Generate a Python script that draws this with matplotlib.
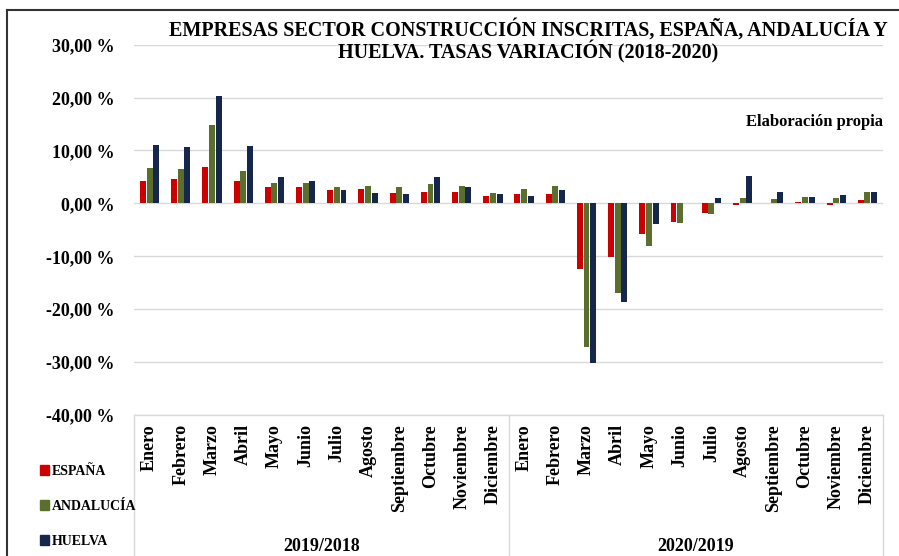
import matplotlib.pyplot as plt
import numpy as np
from matplotlib.lines import Line2D
from matplotlib.patches import Patch

# month labels, two periods of 12 months
months = ["Enero", "Febrero", "Marzo", "Abril", "Mayo", "Junio", "Julio",
          "Agosto", "Septiembre", "Octubre", "Noviembre", "Diciembre"]
periods = ["2019/2018", "2020/2019"]
series_names = ["ESPAÑA", "ANDALUCÍA", "HUELVA"]

# variation rates (%)
espana = [4.2, 4.6, 6.9, 4.2, 3.1, 3.1, 2.6, 2.8, 1.9, 2.1, 2.1, 1.4,
          1.7, 1.7, -12.4, -10.1, -5.7, -3.6, -1.75, -0.4, 0.0, 0.3, -0.4, 0.55]
andalucia = [6.7, 6.5, 14.8, 6.1, 3.9, 3.9, 3.1, 3.3, 3.1, 3.75, 3.3, 1.9,
             2.8, 3.3, -27.1, -17.0, -8.0, -3.8, -2.0, 0.95, 0.75, 1.2, 0.95, 2.1]
huelva = [11.1, 10.6, 20.25, 10.9, 4.9, 4.2, 2.6, 1.9, 1.7, 4.9, 3.1, 1.7,
          1.4, 2.6, -30.2, -18.7, -3.85, 0.0, 0.95, 5.1, 2.1, 1.2, 1.5, 2.1]

colors = ["#CC0000", "#5B6E2E", "#15284B"]
serif = ["Liberation Serif", "DejaVu Serif"]
plt.rcParams["font.family"] = serif
plt.rcParams["font.weight"] = "bold"

W, H = 899, 556
fig = plt.figure(figsize=(W / 100, H / 100), dpi=100)
ax = fig.add_axes([134 / W, 1 - 415 / H, (883 - 134) / W, (415 - 44.6) / H])

labels = months * len(periods)
x = np.arange(len(labels))
bw = 0.19
step = 0.213
for i, (vals, c) in enumerate(zip([espana, andalucia, huelva], colors)):
    ax.bar(x + (i - 1) * step, vals, width=bw, color=c, zorder=3)

ax.set_xlim(-0.5, len(labels) - 0.5)
ax.set_ylim(-40, 30)
ax.set_yticks(np.arange(-40, 31, 10))
ax.set_yticklabels([f"{v:,.2f} %".replace(".", ",") for v in np.arange(-40, 31, 10)],
                   fontsize=13, fontweight="bold")
ax.tick_params(axis="y", length=0, pad=14)
ax.set_xticks([])
ax.grid(axis="y", color="#d9d9d9", lw=1, zorder=0)
for s in ax.spines.values():
    s.set_visible(False)

# month labels under the axis
trans = ax.get_xaxis_transform()
for xi, lab in zip(x, labels):
    ax.text(xi, -0.025, lab, transform=trans, rotation=90, ha="center", va="top",
            fontsize=13, fontweight="bold")

# category table lines
y_bot = -(556 - 415) / (415 - 44.6)
for xs in [-0.5, 11.5, 23.5]:
    ax.add_line(Line2D([xs, xs], [0, y_bot], transform=trans, color="#d9d9d9",
                       lw=1, clip_on=False))
ax.add_line(Line2D([-0.5, 23.5], [0, 0], transform=trans, color="#d9d9d9",
                   lw=1, clip_on=False))
for k, p in enumerate(periods):
    ax.text(5.5 + 12 * k, -0.355, p, transform=trans, ha="center", va="center",
            fontsize=13, fontweight="bold")

ax.text(1.0, 0.79, "Elaboración propia", transform=ax.transAxes, ha="right",
        va="center", fontsize=12, fontweight="bold")

fig.text(528 / W, 1 - 30 / H, "EMPRESAS SECTOR CONSTRUCCIÓN INSCRITAS, ESPAÑA, ANDALUCÍA Y",
         ha="center", va="center", fontsize=14.5, fontweight="bold")
fig.text(528 / W, 1 - 52 / H, "HUELVA. TASAS VARIACIÓN (2018-2020)",
         ha="center", va="center", fontsize=14.5, fontweight="bold")

handles = [Patch(color=c, label=n) for c, n in zip(colors, series_names)]
fig.legend(handles=handles, loc="upper left", bbox_to_anchor=(30 / W, 1 - 455 / H),
           frameon=False, handlelength=0.7, handleheight=0.7, handletextpad=0.2,
           labelspacing=1.6, borderpad=0.2, prop={"size": 10, "weight": "bold"})

# outer chart border (top and left only visible)
fig.add_artist(Line2D([7 / W, 1], [1 - 10 / H, 1 - 10 / H], color="#333333", lw=1.5))
fig.add_artist(Line2D([7 / W, 7 / W], [0, 1 - 10 / H], color="#333333", lw=1.5))

fig.savefig("out.png", dpi=100)
